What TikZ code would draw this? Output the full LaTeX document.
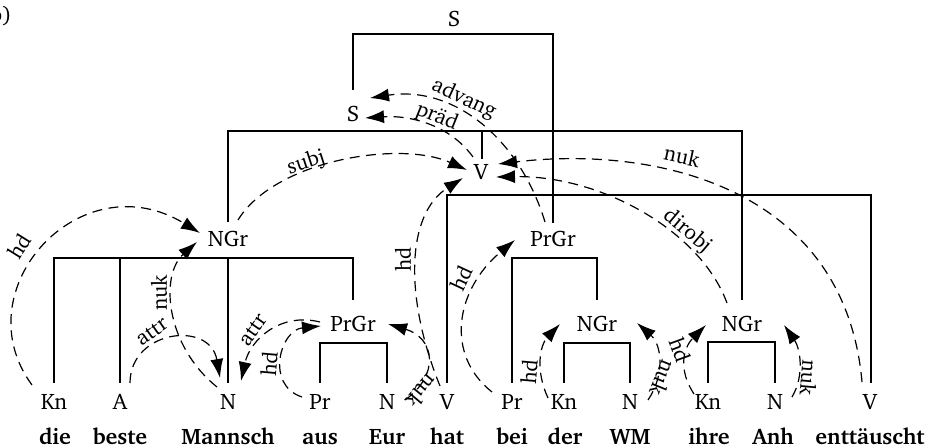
\documentclass[tikz,border=0pt]{standalone}
\usepackage[T1]{fontenc}
\usepackage{charter}
\usetikzlibrary{arrows.meta}
\begin{document}
\begin{tikzpicture}[x=0.5pt,y=-0.5pt,
 cat/.style={anchor=base,inner sep=0pt,font=\fontsize{11.2}{13}\selectfont},
 word/.style={anchor=base,inner sep=0pt,font=\fontsize{11.2}{13}\selectfont\bfseries},
 lab/.style={inner sep=0pt,font=\fontsize{10.8}{12}\selectfont},
 tree/.style={line width=0.95pt},
 dep/.style={line width=0.6pt,dash pattern=on 5pt off 3.2pt,-{Latex[length=9.5pt,width=6.5pt]}}]
\useasboundingbox (0,0) rectangle (938,448);
% tag
\node[cat,anchor=base east] (tag) at (12,23) {b)};
% phrase nodes
\node[cat] (sTop) at (454,27) {S};
\node[cat] (sL) at (353,122) {S};
\node[cat] (vM) at (481,180) {V};
\node[cat] (ngr1) at (228,247) {NGr};
\node[cat] (prgr1) at (353,332) {PrGr};
\node[cat] (prgr2) at (553,247) {PrGr};
\node[cat] (ngr2) at (597,332) {NGr};
\node[cat] (ngr3) at (742,332) {NGr};
% categories
\node[cat] (c1) at (54,410) {Kn};
\node[cat] (c2) at (120,410) {A};
\node[cat] (c3) at (228,410) {N};
\node[cat] (c4) at (320,410) {Pr};
\node[cat] (c5) at (387,410) {N};
\node[cat] (c6) at (447,410) {V};
\node[cat] (c7) at (512,410) {Pr};
\node[cat] (c8) at (564,410) {Kn};
\node[cat] (c9) at (630,410) {N};
\node[cat] (c10) at (708,410) {Kn};
\node[cat] (c11) at (775,410) {N};
\node[cat] (c12) at (870,410) {V};
% words
\node[word] (w1) at (55,445) {die};
\node[word] (w2) at (120,445) {beste};
\node[word] (w3) at (228,445) {Mannsch};
\node[word] (w4) at (320,445) {aus};
\node[word] (w5) at (387,445) {Eur};
\node[word] (w6) at (447,445) {hat};
\node[word] (w7) at (512,445) {bei};
\node[word] (w8) at (565,445) {der};
\node[word] (w9) at (630,445) {WM};
\node[word] (w10) at (709,445) {ihre};
\node[word] (w11) at (773,445) {Anh};
\node[word] (w12) at (870,445) {entt\"auscht};
% tree lines
\draw[tree] ([shift={(0,-32)}]sL.base) |- ([shift={(0,7)}]sTop.base) -| ([shift={(0,-24)}]prgr2.base);
\draw[tree] ([shift={(0,-25)}]ngr1.base) |- ([shift={(0,9)}]sL.base) -| ([shift={(0,-32)}]ngr3.base);
\draw[tree] ([shift={(1,-21)}]vM.base) -- ++(0,-28);
\draw[tree] ([shift={(0,-27)}]c6.base) |- ([shift={(0,15)}]vM.base) -| ([shift={(1,-27)}]c12.base);
\draw[tree] ([shift={(0,-27)}]c1.base) |- ([shift={(0,11)}]ngr1.base) -| ([shift={(0,-32)}]prgr1.base);
\draw[tree] ([shift={(0,-27)}]c2.base) -- ++(0,-125);
\draw[tree] ([shift={(0,-27)}]c3.base) -- ++(0,-125);
\draw[tree] ([shift={(0,-27)}]c4.base) |- ([shift={(0,11)}]prgr1.base) -| ([shift={(0,-27)}]c5.base);
\draw[tree] ([shift={(0,-27)}]c7.base) |- ([shift={(0,11)}]prgr2.base) -| ([shift={(0,-32)}]ngr2.base);
\draw[tree] ([shift={(0,-27)}]c8.base) |- ([shift={(0,11)}]ngr2.base) -| ([shift={(0,-27)}]c9.base);
\draw[tree] ([shift={(0,-27)}]c10.base) |- ([shift={(0,10)}]ngr3.base) -| ([shift={(0,-27)}]c11.base);
% dependency arcs
\draw[dep] ([shift={(-22,-25)}]c1.base) .. controls +(-70,-95) and +(-120,-73) .. ([shift={(-28,-14)}]ngr1.base);
\draw[dep] ([shift={(10,-27)}]ngr1.base) .. controls +(37,-60) and +(-67,-30) .. ([shift={(-14,-10)}]vM.base);
\draw[dep] ([shift={(-11,-23)}]c3.base) .. controls +(-52,-42) and +(-37,33) .. ([shift={(-31,-5)}]ngr1.base);
\draw[dep] ([shift={(10,-27)}]c2.base) .. controls +(0,-53) and +(-10,-58) .. ([shift={(-8,-32)}]c3.base);
\draw[dep] ([shift={(-33,-10)}]prgr1.base) .. controls +(-40,-10) and +(9,-41) .. ([shift={(13,-29)}]c3.base);
\draw[dep] ([shift={(-18,-13)}]c4.base) .. controls +(-37,-12) and +(-41,4) .. ([shift={(-32,-6)}]prgr1.base);
\draw[dep] ([shift={(18,-10)}]c5.base) .. controls +(35,-25) and +(47,14) .. ([shift={(35,-8)}]prgr1.base);
\draw[dep] ([shift={(-7,-24)}]c6.base) .. controls +(-35,-86) and +(-58,37) .. ([shift={(-18,-2)}]vM.base);
\draw[dep] ([shift={(-8,-23)}]vM.base) .. controls +(-23,-32) and +(45,-3) .. ([shift={(12,-4)}]sL.base);
\draw[dep] ([shift={(-8,-25)}]prgr2.base) .. controls +(-25,-82) and +(85,-13) .. ([shift={(17,-24)}]sL.base);
\draw[dep] ([shift={(-8,-28)}]c12.base) .. controls +(-17,-192) and +(162,-19) .. ([shift={(17,-16)}]vM.base);
\draw[dep] ([shift={(-15,-29)}]ngr3.base) .. controls +(-27,-73) and +(104,-2) .. ([shift={(15,-3)}]vM.base);
\draw[dep] ([shift={(-20,-18)}]c7.base) .. controls +(-47,-37) and +(-60,50) .. ([shift={(-38,-7)}]prgr2.base);
\draw[dep] ([shift={(-16,-12)}]c8.base) .. controls +(-13,-28) and +(-20,21) .. ([shift={(-37,-8)}]ngr2.base);
\draw[dep] ([shift={(18,-10)}]c9.base) .. controls +(17,-25) and +(25,22) .. ([shift={(40,-9)}]ngr2.base);
\draw[dep] ([shift={(-14,-16)}]c10.base) .. controls +(-16,-24) and +(-23,23) .. ([shift={(-36,-7)}]ngr3.base);
\draw[dep] ([shift={(17,-13)}]c11.base) .. controls +(13,-22) and +(16,23) .. ([shift={(42,-7)}]ngr3.base);
% arc labels
\node[lab,rotate=58] (l1) at (19,246) {hd};
\node[lab,rotate=18] (l2) at (306,163) {subj};
\node[lab,rotate=90] (l3) at (159,293) {nuk};
\node[lab,rotate=35] (l4) at (152,332) {attr};
\node[lab,rotate=55] (l5) at (253,330) {attr};
\node[lab,rotate=85] (l6) at (269,364) {hd};
\node[lab,rotate=-130] (l7) at (422,391) {nuk};
\node[lab,rotate=90] (l8) at (403,259) {hd};
\node[lab,rotate=-22] (l9) at (437,117) {pr\"ad};
\node[lab,rotate=-25] (l10) at (464,99) {advang};
\node[lab,rotate=-12] (l11) at (682,156) {nuk};
\node[lab,rotate=-40] (l12) at (687,231) {dirobj};
\node[lab,rotate=65] (l13) at (461,278) {hd};
\node[lab,rotate=85] (l14) at (529,372) {hd};
\node[lab,rotate=-112] (l15) at (663,378) {nuk};
\node[lab,rotate=-70] (l16) at (680,350) {hd};
\node[lab,rotate=-95] (l17) at (809,378) {nuk};
\end{tikzpicture}
\end{document}
